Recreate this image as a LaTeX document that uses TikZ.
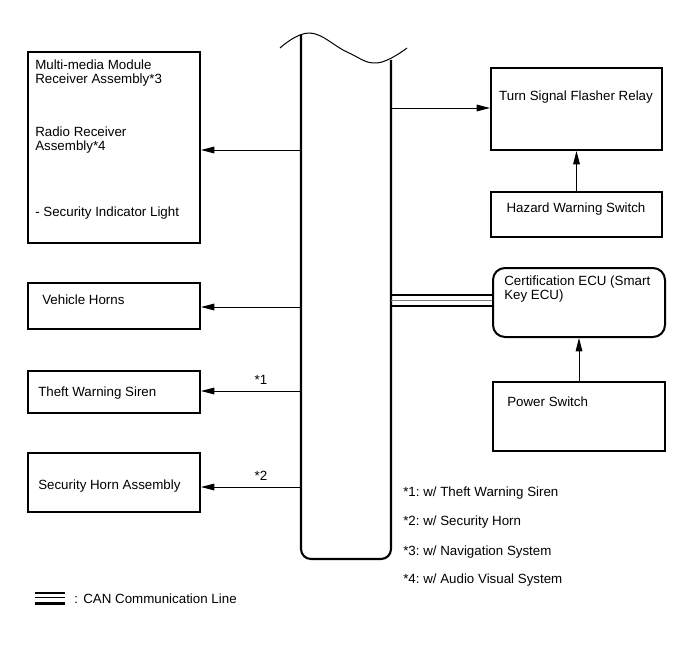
\documentclass[tikz,border=0pt]{standalone}
\usepackage{fontspec}
\setmainfont{Liberation Sans}
\usetikzlibrary{arrows.meta, fit, positioning}
\frenchspacing

\begin{document}
\begin{tikzpicture}[
      x=0.75pt, y=-0.75pt,
      font=\fontsize{10}{10.5}\selectfont,
      box/.style={draw, line width=1.5pt, inner sep=0pt},
      ecubox/.style={box, rounded corners=9pt},
      txt/.style={anchor=west, align=left, inner sep=0pt},
      arr/.style={-{Triangle[length=10pt, width=5pt]}, line width=0.75pt},
      busline/.style={line width=1.6pt, rounded corners=7.5pt},
      can/.style={line width=1.8pt}
   ]
   \useasboundingbox (0,0) rectangle (691,660);

   % bus
   \draw[line width=0.75pt] plot[smooth, tension=0.7] coordinates {(280,48) (310,33) (347,52) (377,63) (407,48)};
   \draw[busline] (301,35) -- (301,559) -- (391,559) -- (391,60);

   % left side
   \node[box, fit={(28,52) (200,243)}] (mm) {};
   \node[txt] (mmA) at (35,73) {Multi-media Module\\Receiver Assembly*3};
   \node[txt] (mmB) at (35,140) {Radio Receiver\\Assembly*4};
   \node[txt] (mmC) at (35,213) {- Security Indicator Light};

   \node[box, fit={(28,283) (200,329)}] (vh) {};
   \node[txt] (vhT) at (42,300) {Vehicle Horns};

   \node[box, fit={(28,371) (200,413)}] (tw) {};
   \node[txt] (twT) at (38,393) {Theft Warning Siren};

   \node[box, fit={(28,453) (200,512)}] (sh) {};
   \node[txt] (shT) at (38,486) {Security Horn Assembly};

   \coordinate (bMM) at (301,150);
   \coordinate (bVH) at (301,307);
   \coordinate (bTW) at (301,391);
   \coordinate (bSH) at (301,487);
   \draw[arr] (bMM) -- (bMM -| mm.east);
   \draw[arr] (bVH) -- (bVH -| vh.east);
   \draw[arr] (bTW) -- (bTW -| tw.east) node[pos=0.4, above=1pt] (n1) {*1};
   \draw[arr] (bSH) -- (bSH -| sh.east) node[pos=0.4, above=1pt] (n2) {*2};

   % right side
   \node[box, fit={(491,68) (662,150)}] (tf) {};
   \node (tfT) at (576,97) {Turn Signal Flasher Relay};

   \node[box, fit={(491,192) (662,237)}] (hz) {};
   \node (hzT) at (576,209) {Hazard Warning Switch};

   \node[ecubox, fit={(493,268) (665,337)}] (ecu) {};
   \node[txt] (ecuT) at (504,289) {Certification ECU (Smart\\Key ECU)};

   \node[box, fit={(493,382) (665,451)}] (ps) {};
   \node[txt] (psT) at (507,402) {Power Switch};

   \coordinate (bTF) at (391,108);
   \draw[arr] (bTF) -- (bTF -| tf.west);
   \draw[arr] (hz.north) -- (tf.south);
   \draw[arr] (ps.north) -- (ecu.south);

   \coordinate (c1) at (391,295);
   \coordinate (c2) at (391,300.5);
   \coordinate (c3) at (391,306);
   \draw[can] (c1) -- (c1 -| ecu.west);
   \draw[line width=0.5pt, gray] (c2) -- (c2 -| ecu.west);
   \draw[can] (c3) -- (c3 -| ecu.west);

   % notes
   \node[txt] (f1) at (403,493) {*1: w/ Theft Warning Siren};
   \node[txt] (f2) at (403,522) {*2: w/ Security Horn};
   \node[txt] (f3) at (403,552) {*3: w/ Navigation System};
   \node[txt] (f4) at (403,580) {*4: w/ Audio Visual System};

   % legend
   \coordinate (lg) at (35,593);
   \draw[can] (lg) -- ++(30,0);
   \draw[line width=1.4pt] ([yshift=-4.5*0.75pt]lg) -- ++(30,0);
   \draw[can] ([yshift=-10.5*0.75pt]lg) -- ++(30,0);
   \node[txt] (lgT) at (74,599) {:\hspace{4pt}CAN Communication Line};
\end{tikzpicture}
\end{document}
